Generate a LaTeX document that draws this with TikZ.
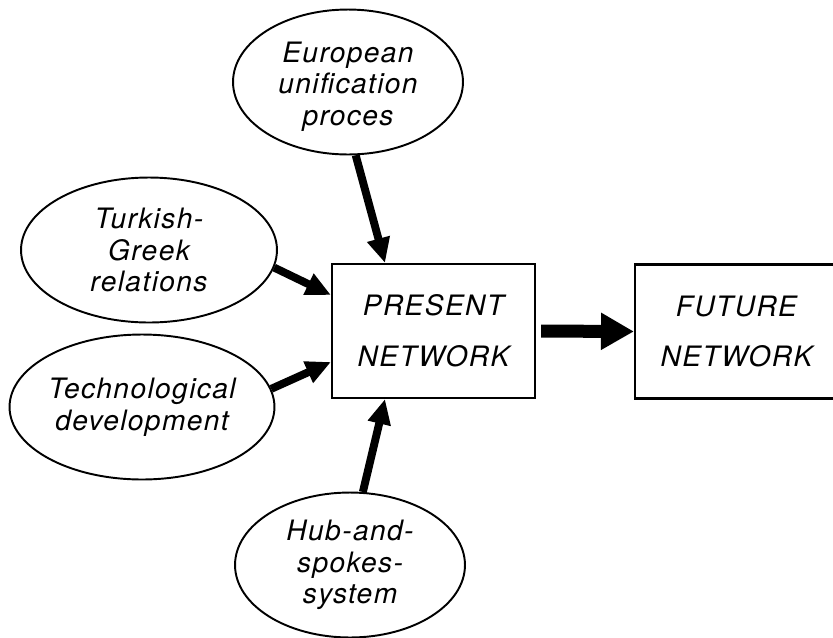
\documentclass[tikz,border=0pt]{standalone}
\usepackage{fontspec}
\setmainfont{TeX Gyre Heros}[LetterSpace=5]
\usepackage{tikz}
\usetikzlibrary{arrows.meta}
\usetikzlibrary{shapes.geometric}
\usetikzlibrary{positioning}
\tikzset{factor/.style={draw=black, ellipse, line width=1.1pt,
    minimum width=4.6cm, minimum height=2.9cm, inner sep=0pt, align=center,
    font=\fontsize{16}{18}\selectfont\itshape}}
\tikzset{netbox/.style={draw=black, line width=1.2pt,
    minimum width=4.06cm, minimum height=2.68cm, align=center,
    font=\fontsize{16}{29}\selectfont\itshape}}
\tikzset{arrow/.style={-{Triangle[length=0.5cm,width=0.44cm]}, line width=4.5pt}}
\tikzset{bigarrow/.style={-{Triangle[length=0.66cm,width=0.7cm]}, line width=7.4pt, shorten <= 0.1cm}}

\begin{document}
\begin{tikzpicture}[x=0.02cm, y=-0.02cm]
        \useasboundingbox (0,0) rectangle (833,637);
        \fill[white] (0,0) rectangle (833,637);
        \clip (0,0) rectangle (833,637);

        \node[netbox] (present) at (433.5,331) {PRESENT\\NETWORK};
        \node[netbox] (future) at (736.5,331.5) {FUTURE\\NETWORK};

        \node[factor] (euro) at (348,82) {\rule{0pt}{17pt}European\\unification\\proces};
        \node[factor, minimum width=5.12cm] (turk) at (149,250) {Turkish-\\Greek\\relations};
        \node[factor, minimum width=5.08cm] (tech) at (142,407) {Technological\\development};
        \node[factor] (hub) at (350,565) {Hub-and-\\spokes-\\system};

        \draw[arrow] (euro.-84) -- ([xshift=-0.97cm]present.north);
        \draw[arrow] (turk.-8) -- ([yshift=0.72cm]present.west);
        \draw[arrow] (tech.8) -- ([yshift=-0.62cm]present.west);
        \draw[arrow] (hub.80) -- ([xshift=-0.97cm]present.south);
        \draw[bigarrow] (present.east) -- (future.west);
\end{tikzpicture}
\end{document}
